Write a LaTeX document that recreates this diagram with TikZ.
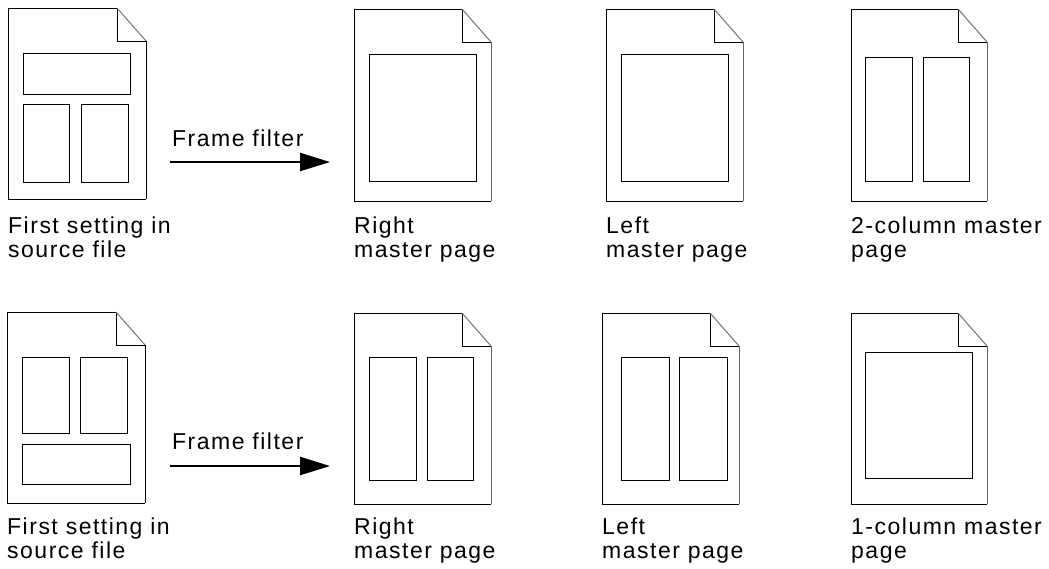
\documentclass[tikz,border=0pt]{standalone}
\usepackage{fontspec}
\usetikzlibrary{arrows.meta}
\newfontfamily\lblfont[LetterSpace=6.5]{Liberation Sans}

% page outline with a folded top-right corner: {x1}{y1}{x2}{y2}{colour of right edge}
\newcommand\docpage[5]{%
  \draw[pageline] ({#3-29},#2) -- (#1,#2) -- (#1,#4) -- (#3,#4);
  \draw[pageline] ({#3-29},#2) -- ({#3-29},{#2+33}) -- (#3,{#2+33});
  \draw[foldline] ({#3-29},#2) -- (#3,{#2+33});
  \draw[pageline,draw=#5] (#3,{#2+33}) -- (#3,#4);
}

\begin{document}
\begin{tikzpicture}[x=1pt,y=-1pt,
  pageline/.style={draw=black,line width=1pt},
  foldline/.style={draw=black!55,line width=1pt},
  frame/.style={draw=black,line width=1pt},
  flow/.style={draw=black,line width=2.2pt,-{Triangle[length=30pt,width=18pt]}},
  lbl/.style={font=\lblfont\fontsize{23}{23.5}\selectfont,inner sep=0pt,align=left,anchor=base west},
]
\useasboundingbox (0,0) rectangle (1049,568);

% ---- upper row (labels are anchored at the baseline of their last line) ----
\docpage{8}{8}{146}{199}{black}
\draw[frame] (23,53) rectangle (130,94);
\draw[frame] (23,104) rectangle (69,182);
\draw[frame] (81,104) rectangle (128,182);
\node[lbl] (src1) at (8,257) {First setting in\\source file};

\coordinate (f1s) at (170,162);
\coordinate (f1e) at (330,162);
\draw[flow] (f1s) -- (f1e);
\node[lbl] (flt1) at (172,146) {Frame filter};

\docpage{354}{9}{491}{201}{black!60}
\draw[frame] (369,54) rectangle (476,181);
\node[lbl] (rmp1) at (354,257) {Right\\master page};

\docpage{606}{9}{743}{201}{black!60}
\draw[frame] (621,54) rectangle (728,181);
\node[lbl] (lmp1) at (606,257) {Left\\master page};

\docpage{851}{9}{987}{201}{black!60}
\draw[frame] (865,57) rectangle (912,181);
\draw[frame] (923,57) rectangle (969,181);
\node[lbl] (cmp1) at (851,257) {2-column master\\page};

% ---- lower row ----
\docpage{7}{312}{145}{503}{black}
\draw[frame] (22,357) rectangle (69,433);
\draw[frame] (80,357) rectangle (127,433);
\draw[frame] (22,444) rectangle (130,484);
\node[lbl] (src2) at (7,558) {First setting in\\source file};

\coordinate (f2s) at (170,466);
\coordinate (f2e) at (330,466);
\draw[flow] (f2s) -- (f2e);
\node[lbl] (flt2) at (172,449) {Frame filter};

\docpage{354}{313}{491}{504}{black!60}
\draw[frame] (369,357) rectangle (416,480);
\draw[frame] (427,357) rectangle (473,480);
\node[lbl] (rmp2) at (354,558) {Right\\master page};

\docpage{602}{313}{739}{504}{black!60}
\draw[frame] (621,357) rectangle (669,480);
\draw[frame] (679,357) rectangle (727,480);
\node[lbl] (lmp2) at (602,558) {Left\\master page};

\docpage{851}{313}{987}{504}{black!60}
\draw[frame] (865,352) rectangle (972,478);
\node[lbl] (cmp2) at (851,558) {1-column master\\page};
\end{tikzpicture}
\end{document}
